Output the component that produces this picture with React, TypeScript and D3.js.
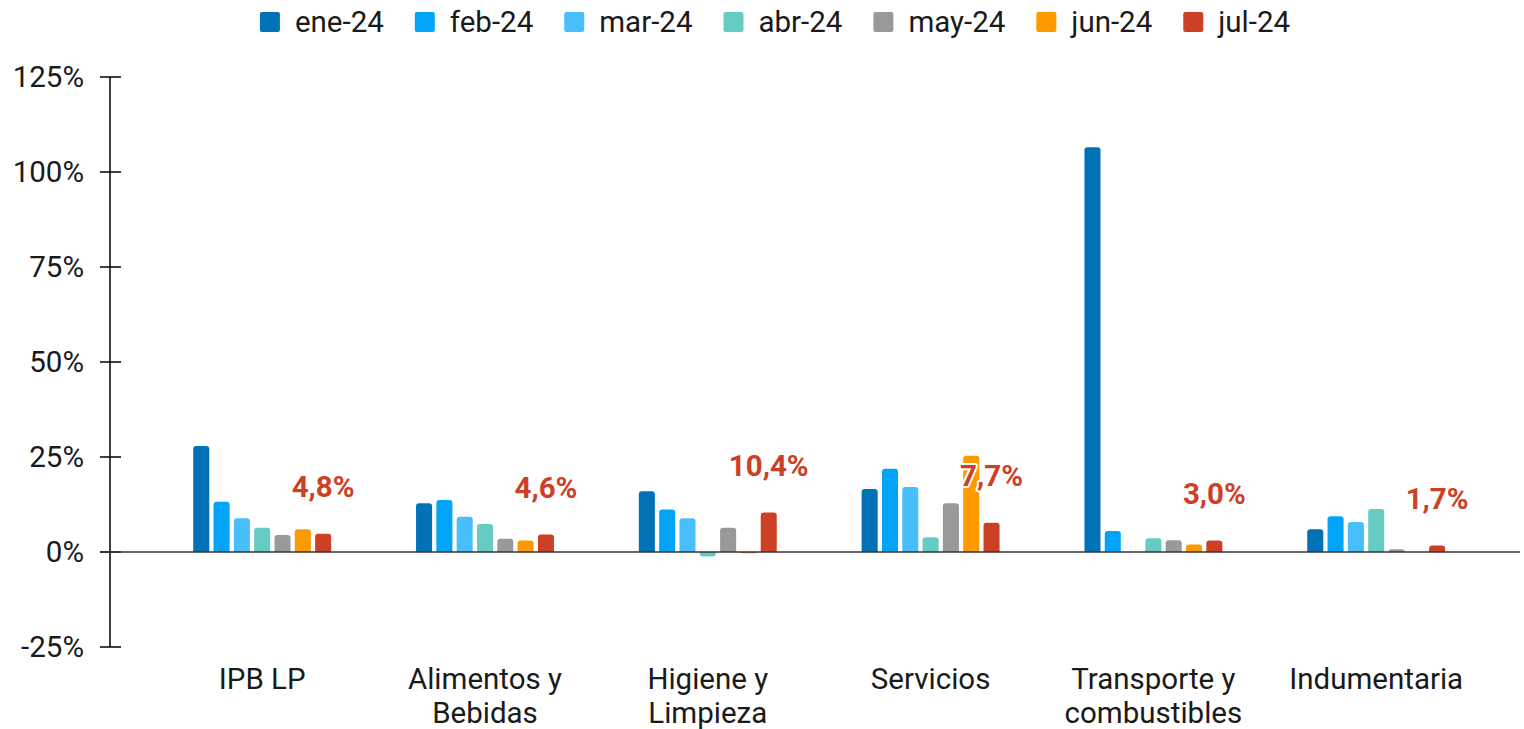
import React from "react";
import * as d3 from "d3";

const categories = [
  ["IPB LP"],
  ["Alimentos y", "Bebidas"],
  ["Higiene y", "Limpieza"],
  ["Servicios"],
  ["Transporte y", "combustibles"],
  ["Indumentaria"],
];
const months = ["ene-24", "feb-24", "mar-24", "abr-24", "may-24", "jun-24", "jul-24"];
const colors = ["#0172B5", "#03A4F7", "#48BFFB", "#66CCC3", "#999999", "#FF9900", "#CC4125"];

// one array per month, one value per category (in %)
const ene = [27.9, 12.8, 16.0, 16.6, 106.5, 6.0];
const feb = [13.2, 13.7, 11.2, 21.9, 5.5, 9.4];
const mar = [8.9, 9.3, 8.9, 17.1, null, 7.9];
const abr = [6.4, 7.4, -1.2, 3.9, 3.6, 11.3];
const may = [4.5, 3.5, 6.4, 12.8, 3.1, 0.7];
const jun = [6.0, 3.0, -0.3, 25.3, 2.0, null];
const jul = [4.8, 4.6, 10.4, 7.7, 3.0, 1.7];
const julLabels = ["4,8%", "4,6%", "10,4%", "7,7%", "3,0%", "1,7%"];

const yTicks = [-25, 0, 25, 50, 75, 100, 125];

const series = [ene, feb, mar, abr, may, jun, jul];

const W = 1524;
const H = 729;
const font = "Roboto, 'Noto Sans', sans-serif";
const fs = 29.5;

function barPath(x: number, w: number, y0: number, y1: number) {
  // rounded on the end away from zero
  const h = Math.abs(y1 - y0);
  const r = Math.min(3, h, w / 2);
  if (y1 <= y0) {
    return `M${x},${y0}V${y1 + r}Q${x},${y1} ${x + r},${y1}H${x + w - r}Q${x + w},${y1} ${x + w},${y1 + r}V${y0}Z`;
  }
  return `M${x},${y0}V${y1 - r}Q${x},${y1} ${x + r},${y1}H${x + w - r}Q${x + w},${y1} ${x + w},${y1 - r}V${y0}Z`;
}

let ctx: CanvasRenderingContext2D | null = null;
function measure(s: string, size: number) {
  if (!ctx) ctx = document.createElement("canvas").getContext("2d");
  if (!ctx) return s.length * size * 0.5;
  ctx.font = `${size}px Roboto`;
  return ctx.measureText(s).width;
}

export default function App() {
  const x0 = d3
    .scaleBand<number>()
    .domain(d3.range(categories.length))
    .range([150.8, 1487.6]);

  const x1 = d3
    .scaleBand<number>()
    .domain(d3.range(months.length))
    .range([-71, 71])
    .paddingInner(0.21)
    .paddingOuter(0.1);

  const y = d3.scaleLinear().domain([-25, 125]).range([647, 77]);

  // legend layout
  const sq = 20;
  const gapSqText = 15;
  const gapItems = 31;
  const widths = months.map((m) => sq + gapSqText + measure(m, fs));
  const totalW = d3.sum(widths) + gapItems * (months.length - 1);
  let lx = 775 - totalW / 2;
  const legendPos = widths.map((w) => {
    const p = lx;
    lx += w + gapItems;
    return p;
  });

  return (
    <div style={{ position: "absolute", left: 0, top: 0 }}>
      <svg width={W} height={H} style={{ display: "block", background: "#fff" }} fontFamily={font}>
        {/* legend */}
        {months.map((m, i) => (
          <g key={m} transform={`translate(${legendPos[i]},22)`}>
            <rect x={0} y={-sq / 2} width={sq} height={sq} rx={2} fill={colors[i]} />
            <text x={sq + gapSqText} dy="0.35em" fontSize={fs} fill="#1a1a1a">
              {m}
            </text>
          </g>
        ))}

        {/* y axis */}
        <line x1={110} x2={110} y1={y(125)} y2={y(-25)} stroke="#000" strokeWidth={1.5} />
        {yTicks.map((t) => (
          <g key={t} transform={`translate(0,${y(t)})`}>
            <line x1={100} x2={121} stroke="#000" strokeWidth={1.5} />
            <text x={84} dy="0.35em" textAnchor="end" fontSize={fs} fill="#1a1a1a">
              {t}%
            </text>
          </g>
        ))}

        {/* bars */}
        {categories.map((c, ci) => (
          <g key={ci} transform={`translate(${(x0(ci) as number) + x0.bandwidth() / 2},0)`}>
            {series.map((s, si) => {
              const v = s[ci];
              if (v === null) return null;
              return (
                <path
                  key={si}
                  d={barPath(x1(si) as number, x1.bandwidth(), y(0), y(v))}
                  fill={colors[si]}
                />
              );
            })}
          </g>
        ))}

        {/* zero line */}
        <line x1={100} x2={1520} y1={y(0)} y2={y(0)} stroke="#333" strokeWidth={1.5} />

        {/* jul labels */}
        {categories.map((c, ci) => {
          const cx = (x0(ci) as number) + x0.bandwidth() / 2 + (x1(6) as number) + x1.bandwidth() / 2;
          const cy = y(jul[ci] as number) - 47;
          return (
            <text
              key={ci}
              x={cx}
              y={cy}
              dy="0.35em"
              textAnchor="middle"
              fontSize={fs}
              fontWeight="bold"
              fill="#CC4125"
              stroke="#fff"
              strokeWidth={4}
              paintOrder="stroke"
              strokeLinejoin="round"
            >
              {julLabels[ci]}
            </text>
          );
        })}

        {/* category labels */}
        {categories.map((c, ci) => (
          <text
            key={ci}
            x={(x0(ci) as number) + x0.bandwidth() / 2}
            y={679}
            textAnchor="middle"
            fontSize={fs}
            fill="#1a1a1a"
          >
            {c.map((line, li) => (
              <tspan key={li} x={(x0(ci) as number) + x0.bandwidth() / 2} dy={li === 0 ? "0.35em" : 34}>
                {line}
              </tspan>
            ))}
          </text>
        ))}
      </svg>
    </div>
  );
}
